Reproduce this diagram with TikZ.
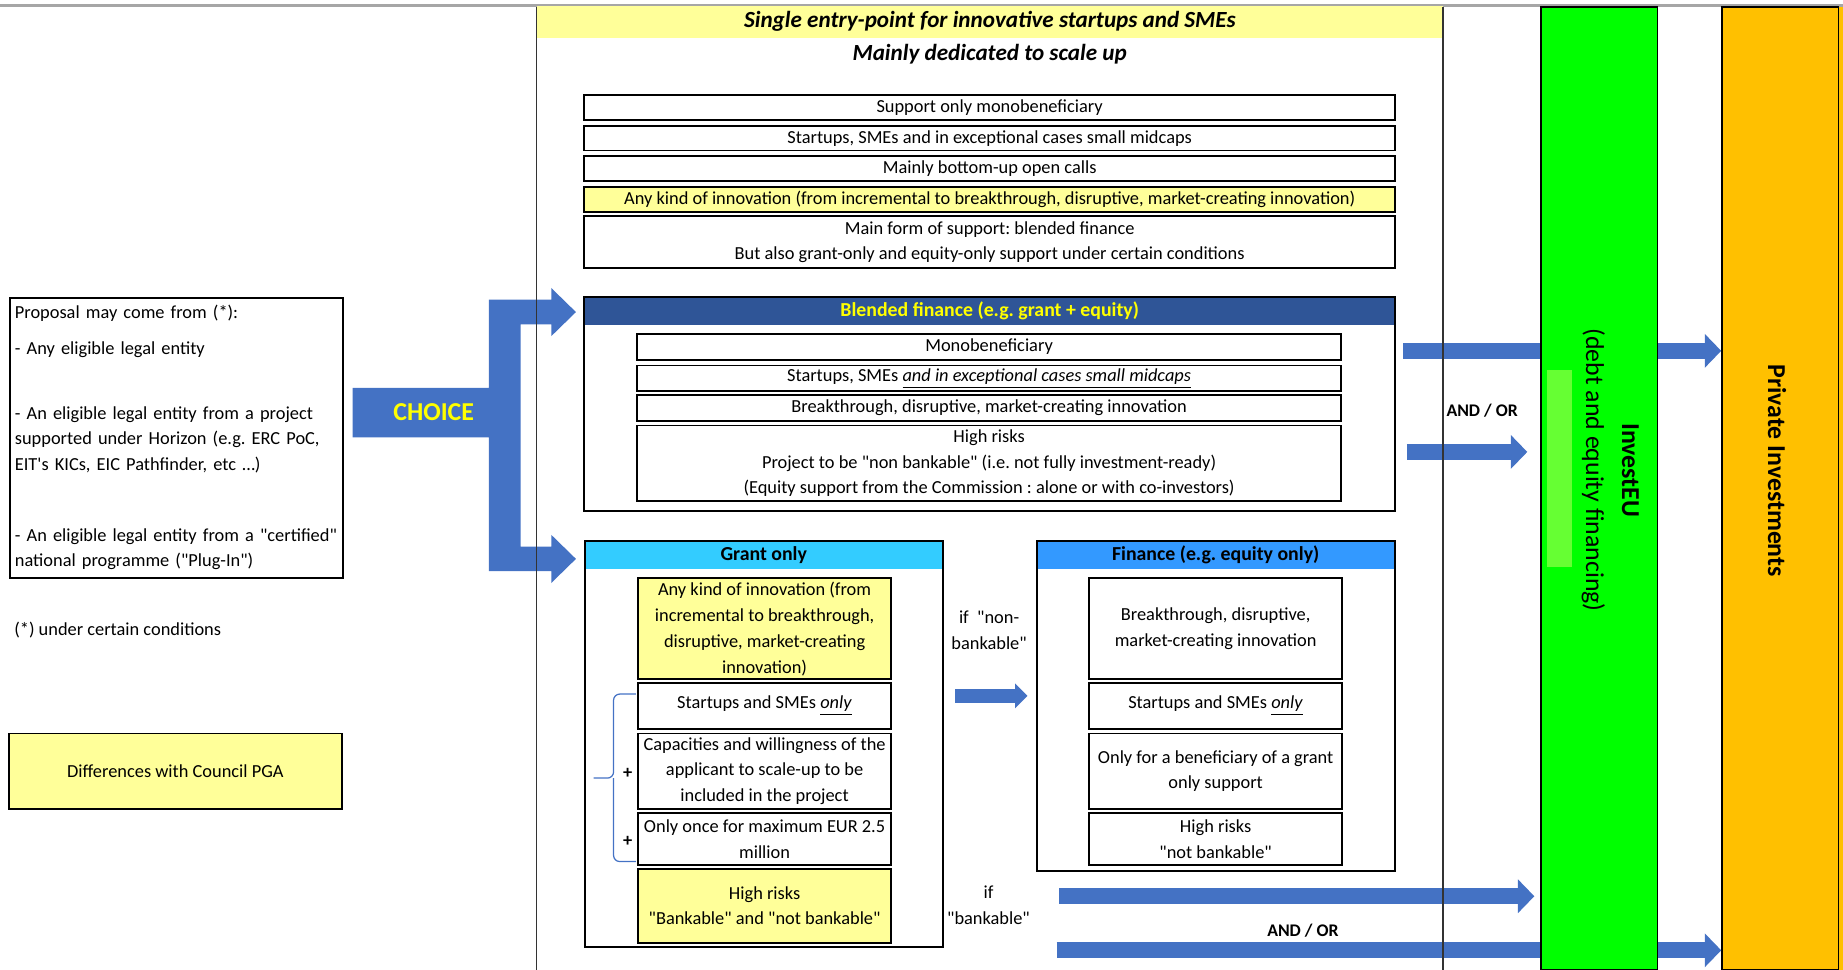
\documentclass[tikz,border=0pt]{standalone}
\usepackage{fontspec}
\setmainfont{Carlito}
\usepackage{tikz}
\usetikzlibrary{arrows.meta,positioning}
\definecolor{choiceblue}{HTML}{4472C4}
\definecolor{headdark}{HTML}{2F5597}
\definecolor{grantblue}{HTML}{33CCFF}
\definecolor{financeblue}{HTML}{3399FF}
\definecolor{paleyellow}{HTML}{FFFF99}
\definecolor{choiceyellow}{HTML}{FFFF00}
\definecolor{investgreen}{HTML}{00FF00}
\definecolor{patchgreen}{HTML}{66FF33}
\definecolor{privateorange}{HTML}{FFC000}
\newcommand{\bodyfont}{\fontsize{8.9}{12.5}\selectfont}
\newcommand{\headfont}{\fontsize{9.6}{12}\selectfont\bfseries}
\newcommand{\titlefont}{\fontsize{11.2}{13}\selectfont\bfseries\itshape}
\newcommand{\bandfont}{\fontsize{12.5}{17.4}\selectfont}
\newcommand{\andorfont}{\fontsize{8.6}{10}\selectfont\bfseries}
\newcommand{\dquote}[1]{\textquotedbl#1\textquotedbl}
\frenchspacing

\begin{document}
\begin{tikzpicture}[x=0.02cm, y=-0.02cm,
      cell/.style={draw, line width=0.9pt, inner sep=0pt, align=center, font=\bodyfont},
      hicell/.style={cell, fill=paleyellow},
      outerbox/.style={draw, line width=1pt, inner sep=0pt},
      headband/.style={inner sep=0pt, font=\headfont},
      band/.style={draw, line width=0.7pt, minimum width=1.98cm, minimum height=16.38cm, inner sep=0pt},
      flowbar/.style={draw=choiceblue, line width=0.27cm},
      flowarrow/.style={flowbar, -{Triangle[length=0.28cm, width=0.56cm]}},
      smallarrow/.style={draw=choiceblue, line width=0.24cm, -{Triangle[length=0.21cm, width=0.41cm]}},
      remark/.style={font=\bodyfont, align=center, inner sep=0pt},
      frameline/.style={black!80, line width=0.9pt}
    ]
      \useasboundingbox (0,0) rectangle (1568,825);
      \draw[black!35, line width=0.05cm] (0,5) -- (1568,5);

      % InvestEU and private bands
      \node[band, fill=investgreen] (investeu) at (1360.5,415.5) {};
      \fill[patchgreen] (1316,315) rectangle (1337.5,482);
      \node[rotate=-90, align=center, font=\bandfont] (investtxt) at (1370,400)
        {\textbf{InvestEU}\\(debt and equity financing)};
      \fill[privateorange] (1564,6) rectangle (1568,825);
      \node[band, fill=privateorange] (private) at (1514.5,415.5) {};
      \node[rotate=-90, font=\bandfont\bfseries] (privatetxt) at (1512,400.5) {Private Investments};

      % Header of the central column
      \node[fill=paleyellow, minimum width=15.43cm, minimum height=0.54cm, inner sep=0pt,
            font=\titlefont] (entry) at (842.25,18.5) {Single entry-point for innovative startups and SMEs};
      \node[font=\titlefont] (scaleup) at (842,46) {Mainly dedicated to scale up};

      % General conditions
      \node[cell, minimum width=13.8cm, minimum height=0.42cm] (mono) at (842,91.5) {Support only monobeneficiary};
      \node[cell, minimum width=13.8cm, minimum height=0.42cm] (smes) at (842,117.5) {Startups, SMEs and in exceptional cases small midcaps};
      \node[cell, minimum width=13.8cm, minimum height=0.42cm] (calls) at (842,143.5) {Mainly bottom-up open calls};
      \node[hicell, minimum width=13.8cm, minimum height=0.42cm] (anykind) at (842,169.5) {Any kind of innovation (from incremental to breakthrough, disruptive, market-creating innovation)};
      \node[cell, minimum width=13.8cm, minimum height=0.88cm] (form) at (842,206) {Main form of support: blended finance\\But also grant-only and equity-only support under certain conditions};

      % Blended finance
      \node[headband, fill=headdark, text=choiceyellow, minimum width=13.8cm, minimum height=0.47cm] (blendedhead) at (842,264.75) {Blended finance (e.g. grant + equity)};
      \node[outerbox, minimum width=13.8cm, minimum height=3.63cm] (blended) at (842,343.75) {};
      \node[cell, minimum width=11.98cm, minimum height=0.44cm] (bmono) at (841.5,295) {Monobeneficiary};
      \node[cell, minimum width=11.98cm, minimum height=0.44cm] (bsmes) at (841.5,322) {Startups, SMEs \underline{\textit{and in exceptional cases small midcaps}}};
      \node[cell, minimum width=11.98cm, minimum height=0.44cm] (bbreak) at (841.5,347) {Breakthrough, disruptive, market-creating innovation};
      \node[cell, minimum width=11.98cm, minimum height=1.28cm] (brisk) at (841.5,394) {High risks\\Project to be \dquote{non bankable} (i.e. not fully investment-ready)\\(Equity support from the Commission : alone or with co-investors)};

      % Grant only
      \node[headband, fill=grantblue, minimum width=6.09cm, minimum height=0.48cm] (granthead) at (649.75,472) {Grant only};
      \node[outerbox, minimum width=6.09cm, minimum height=6.92cm] (grant) at (649.75,633) {};
      \node[hicell, minimum width=4.3cm, minimum height=1.72cm] (ganykind) at (650.5,535) {Any kind of innovation (from\\incremental to breakthrough,\\disruptive, market-creating\\innovation)};
      \node[cell, minimum width=4.3cm, minimum height=0.78cm] (gsmes) at (650.5,600.5) {Startups and SMEs \underline{\textit{only}}};
      \node[cell, minimum width=4.3cm, minimum height=1.28cm] (gscale) at (650.5,656) {Capacities and willingness of the\\applicant to scale-up to be\\included in the project};
      \node[cell, minimum width=4.3cm, minimum height=0.88cm] (gonce) at (650.5,714) {Only once for maximum EUR 2.5\\million};
      \node[hicell, minimum width=4.3cm, minimum height=1.26cm] (grisk) at (650.5,770.5) {High risks\\\dquote{Bankable} and \dquote{not bankable}};
      \draw[choiceblue, line width=0.6pt, rounded corners=3pt] (541,590.5) -| (522,662) -- (505,662);
      \draw[choiceblue, line width=0.6pt, rounded corners=3pt] (541,733) -| (522,662);
      \node[font=\bodyfont\bfseries, inner sep=0pt] (plusa) at (534,658) {+};
      \node[font=\bodyfont\bfseries, inner sep=0pt] (plusb) at (534,716) {+};

      % Finance only
      \node[headband, fill=financeblue, minimum width=6.09cm, minimum height=0.47cm] (financehead) at (1034.25,472.25) {Finance (e.g. equity only)};
      \node[outerbox, minimum width=6.09cm, minimum height=5.61cm] (finance) at (1034.25,600.75) {};
      \node[cell, minimum width=4.31cm, minimum height=1.72cm] (fbreak) at (1034.25,535) {Breakthrough, disruptive,\\market-creating innovation};
      \node[cell, minimum width=4.31cm, minimum height=0.78cm] (fsmes) at (1034.25,600.5) {Startups and SMEs \underline{\textit{only}}};
      \node[cell, minimum width=4.31cm, minimum height=1.28cm] (fgrant) at (1034.25,656) {Only for a beneficiary of a grant\\only support};
      \node[cell, minimum width=4.31cm, minimum height=0.88cm] (frisk) at (1034.25,714) {High risks\\\dquote{not bankable}};

      % Left column
      \node[outerbox, anchor=north west, text width=5.49cm, inner xsep=2.5pt, inner ysep=0pt,
            text height=10pt, text depth=125.8pt, align=left, font=\bodyfont] (proposal) at (7.4,252.5)
        {Proposal may come from (*):\\[5pt]- Any eligible legal entity\\[18.7pt]- An eligible legal entity from a project\\supported under Horizon (e.g. ERC PoC,\\EIT\textquotesingle s KICs, EIC Pathfinder, etc \ldots)\\[21.6pt]- An eligible legal entity from a \dquote{certified}\\national programme (\dquote{Plug-In})};
      \node[font=\bodyfont, anchor=west, inner sep=0pt] (conditions) at (11.8,536) {(*) under certain conditions};
      \node[hicell, minimum width=5.67cm, minimum height=1.28cm] (council) at (149.2,656) {Differences with Council PGA};

      % Choice arrow
      \fill[choiceblue] (300,330) -- (416,330) -- (416,255) -- (469,255) -- (469,245) -- (490,265.5)
        -- (469,286) -- (469,276) -- (443,276) -- (443,465) -- (469,465) -- (469,455) -- (490,475.5)
        -- (469,496) -- (469,486) -- (416,486) -- (416,372) -- (300,372) -- cycle;
      \node[font=\fontsize{12.5}{14}\selectfont\bfseries, text=choiceyellow] (choice) at (369,351) {CHOICE};

      % Flows
      \coordinate (bfout) at (1194,298.5);
      \draw[flowbar] (bfout) -- (bfout -| investeu.west);
      \draw[flowarrow] (investeu.east |- bfout) -- (private.west |- bfout);
      \coordinate (bfalt) at (1197,384.5);
      \draw[flowarrow, shorten >=0.22cm] (bfalt) -- (bfalt -| investeu.west);
      \node[font=\andorfont] (andora) at (1261,349) {AND / OR};
      \coordinate (nonbank) at (812.5,592);
      \draw[smallarrow, shorten >=0.14cm] (nonbank) -- (nonbank -| finance.west);
      \node[remark] (ifnonbank) at (841.5,536.5) {if\ \ \textquotedbl non-\\bankable\textquotedbl};
      \coordinate (bank) at (901,762.5);
      \draw[flowarrow, shorten >=0.1cm] (bank) -- (bank -| investeu.west);
      \node[remark] (ifbank) at (841,770.5) {if\\\dquote{bankable}};
      \coordinate (bankalt) at (899,808.5);
      \draw[flowbar] (bankalt) -- (bankalt -| investeu.west);
      \draw[flowarrow] (investeu.east |- bankalt) -- (private.west |- bankalt);
      \node[font=\andorfont] (andorb) at (1108.5,791.5) {AND / OR};

      % Column frame
      \draw[frameline] (456.5,6) -- (456.5,825);
      \draw[frameline] (1228,6) -- (1228,825);
    \end{tikzpicture}
\end{document}
